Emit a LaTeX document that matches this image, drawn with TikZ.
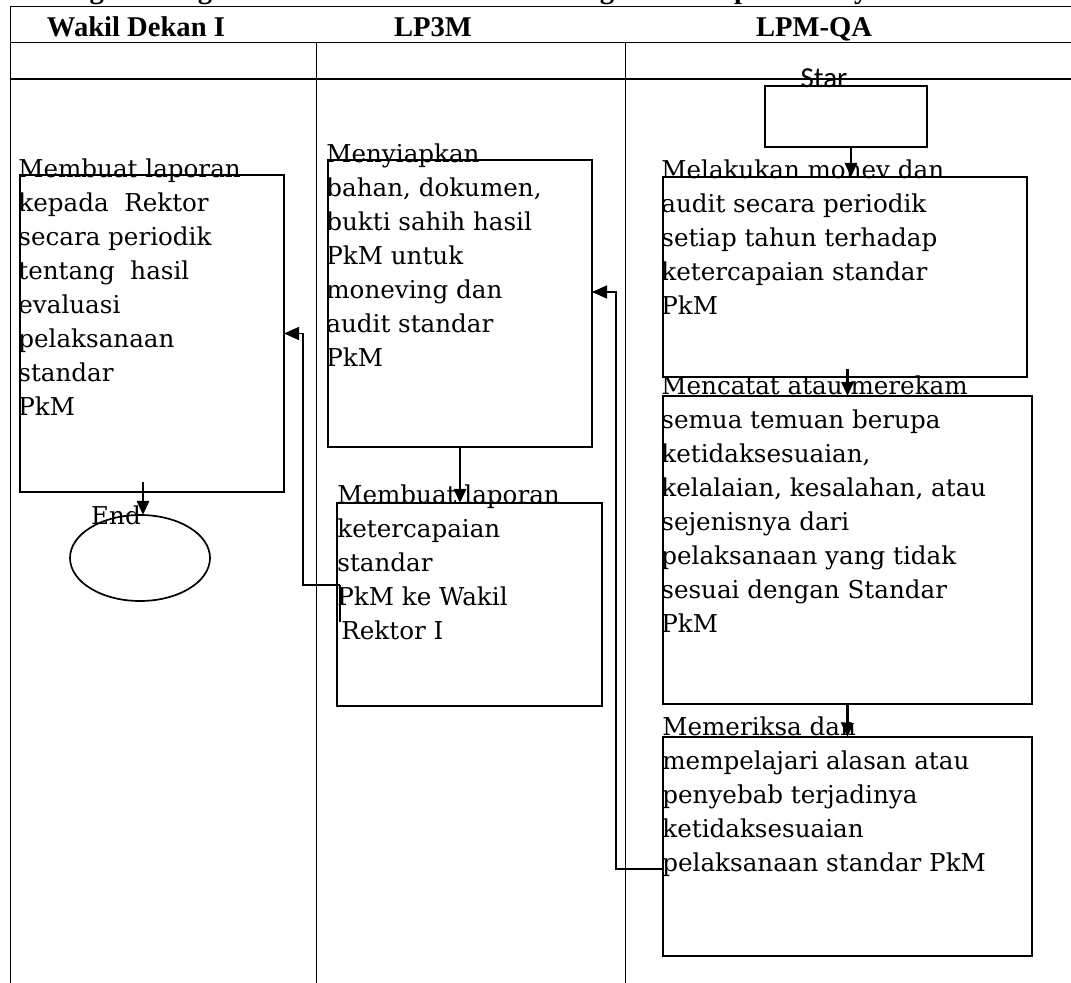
\documentclass[tikz,border=0pt]{standalone}
\usepackage{fontspec}
\setmainfont{DejaVu Serif}
\newfontfamily\headfont{Liberation Serif}
\newfontfamily\startfont{Carlito}
\usetikzlibrary{arrows.meta, shapes.geometric, calc}

\tikzset{
  procbox/.style={draw, line width=0.85pt, inner sep=0pt, outer sep=0pt}
}
\tikzset{
  steptext/.style={anchor=north west, inner sep=0pt, align=left, font=\fontsize{12.3}{17}\selectfont}
}
\tikzset{
  headtext/.style={anchor=base, inner sep=0pt, font=\headfont\bfseries\fontsize{14.3}{17}\selectfont},
  flow/.style={line width=1.4pt, -{Triangle[length=7pt,width=6pt]}},
  link/.style={line width=0.75pt, -{Triangle[length=7.5pt,width=6.5pt]}},
  gridline/.style={line width=0.5pt}
}

\begin{document}
\begin{tikzpicture}[x=0.5pt, y=-0.5pt]
      \useasboundingbox (0,0) rectangle (1071,983);
      \clip (0,0) rectangle (1071,983);
      % title, cut off at the top of the page
      \node[headtext, anchor=base west] (title) at (40,-1) {Langkah-langkah Evaluasi Standar Hasil Pengabdian kepada Masyarakat};
      % table frame
      \draw[gridline] (10,983) -- (10,7) -- (1071,7);
      \draw[gridline] (10,43) -- (1071,43);
      \draw[line width=1pt] (10,79) -- (1071,79);
      \foreach \x in {316,625} {
        \draw[gridline] (\x,43) -- (\x,983);
      }
      \node[headtext] (hwd) at (136,37) {Wakil Dekan I};
      \node[headtext] (hlp) at (433,37) {LP3M};
      \node[headtext] (hqa) at (814,37) {LPM-QA};
      % boxes
      \node[procbox, minimum width=81pt, minimum height=30.5pt] (star) at (846,116.5) {};
      \node[procbox, minimum width=182pt, minimum height=100pt] (qa1) at (845,277) {};
      \node[procbox, minimum width=184.5pt, minimum height=154pt] (qa2) at (847.5,550) {};
      \node[procbox, minimum width=184.5pt, minimum height=109.5pt] (qa3) at (847.5,846.5) {};
      \node[procbox, minimum width=132pt, minimum height=143.5pt] (lp1) at (460,303.5) {};
      \node[procbox, minimum width=132.5pt, minimum height=101.5pt] (lp2) at (469.5,604.5) {};
      \node[procbox, minimum width=132pt, minimum height=158.5pt] (wd1) at (152,333.5) {};
      \node[procbox, ellipse, minimum width=70pt, minimum height=43pt] (finish) at (140,558) {};
      % texts
      \node[anchor=base, inner sep=0pt, font=\startfont\fontsize{14.5}{17}\selectfont] (startxt) at (824,88) {Star};
      \node[steptext] (qa1t) at (661,154.2) {\strut Melakukan monev dan\\audit secara periodik\\setiap tahun terhadap\\ketercapaian standar\\PkM};
      \node[steptext] (qa2t) at (661,370.2) {\strut Mencatat atau merekam\\semua temuan berupa\\ketidaksesuaian,\\kelalaian, kesalahan, atau\\sejenisnya dari\\pelaksanaan yang tidak\\sesuai dengan Standar\\PkM};
      \node[steptext] (qa3t) at (662,711.2) {\strut Memeriksa dan\\mempelajari alasan atau\\penyebab terjadinya\\ketidaksesuaian\\pelaksanaan standar PkM};
      \node[steptext] (lp1t) at (326,138.2) {\strut Menyiapkan\\bahan, dokumen,\\bukti sahih hasil\\PkM untuk\\moneving dan\\audit standar\\PkM};
      \node[steptext] (lp2t) at (337,479.2) {\strut Membuat laporan\\ketercapaian\\standar\\PkM ke Wakil\\\hspace*{2pt}Rektor I};
      \node[steptext] (wdt) at (18,153.2) {\strut Membuat laporan\\kepada\ \ Rektor\\secara periodik\\tentang\ \ hasil\\evaluasi\\pelaksanaan\\standar\\PkM};
      \node[anchor=base, inner sep=0pt, font=\fontsize{12.3}{17}\selectfont] (endtxt) at (116,525) {End};
      % flow down each lane
      \draw[flow] ($(star.south)+(5,0)$) -- ($(star.south |- qa1.north)+(5,0)$);
      \draw[flow] ($(qa1.south -| qa2.north)+(0,-8)$) -- (qa2.north);
      \draw[flow] (qa2.south) -- (qa3.north);
      \draw[flow] (lp1.south) -- (lp1.south |- lp2.north);
      \draw[flow] ($(wd1.south)+(-9,-10)$) -- ($(wd1.south |- finish.north)+(-9,0)$);
      % links between lanes
      \draw[link] ($(qa3.west)+(0,22.5)$) -- ++(-47,0) |- ($(lp1.east)+(0,-11.5)$);
      \coordinate (lp2stub) at (340,622);
      \draw[line width=1pt] (lp2stub) -- ++(0,-37);
      \draw[link] (lp2stub) ++(0,-37) -| ($(wd1.east)+(19,0)$) -- (wd1.east);
    \end{tikzpicture}
\end{document}
